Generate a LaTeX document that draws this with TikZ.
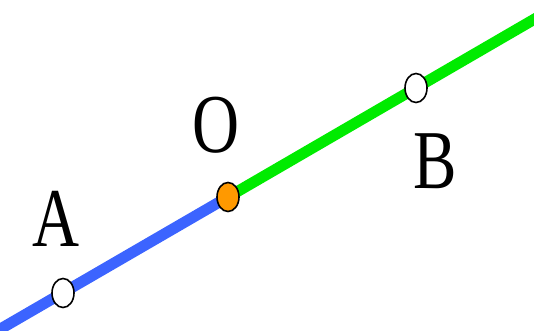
\documentclass[tikz,border=0pt]{standalone}
\usepackage{fontspec}
\setmainfont{Liberation Serif}
\usetikzlibrary{shapes.geometric}
\begin{document}
\begin{tikzpicture}[x=1pt,y=-1pt,
  seg/.style={line width=11pt},
  pt/.style={ellipse,draw=black,line width=1.6pt,minimum width=22pt,minimum height=29pt,inner sep=0pt},
  lbl/.style={inner sep=0pt,font=\fontsize{62}{62}\selectfont}]
\useasboundingbox (0,0) rectangle (534,330);
\begin{scope}
\clip (0,0) rectangle (534,330);
\coordinate (s) at (-10,335);
\coordinate (pA) at (63,293);
\coordinate (pO) at (228,197);
\coordinate (pB) at (416,88);
\coordinate (e) at (545,13);
\draw[seg,color={rgb,255:red,60;green,100;blue,255}] (s) -- (pO);
\draw[seg,color={rgb,255:red,0;green,235;blue,0}] (pO) -- (e);
\end{scope}
\node[pt,fill=white] (A) at (pA) {};
\node[pt,fill=white] (B) at (pB) {};
\node[pt,fill={rgb,255:red,255;green,153;blue,0}] (O) at (pO) {};
\node[lbl] (la) at (56,219) {\scalebox{1.05}[1.35]{A}};
\node[lbl] (lo) at (216,125) {\scalebox{1.05}[1.35]{O}};
\node[lbl] (lb) at (435,161) {\scalebox{1.05}[1.35]{B}};
\end{tikzpicture}
\end{document}
